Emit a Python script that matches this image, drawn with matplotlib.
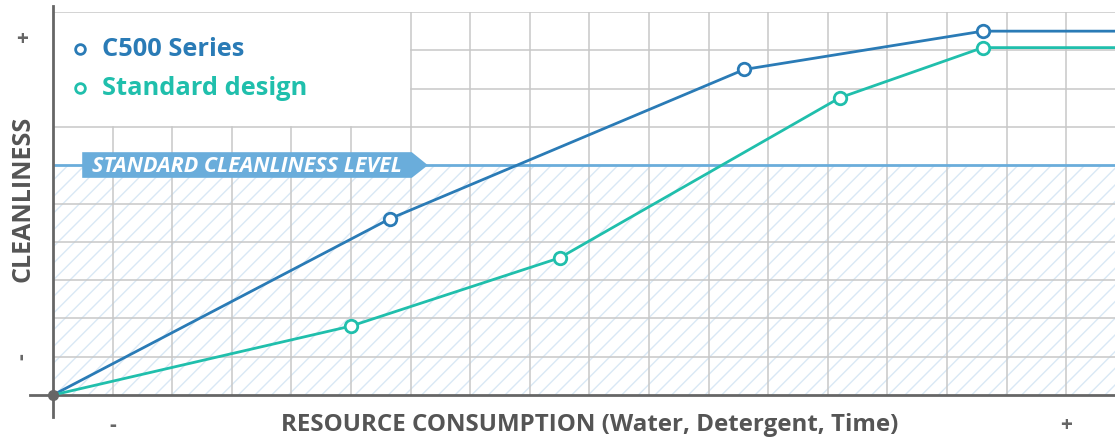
import matplotlib.pyplot as plt
from matplotlib.patches import Polygon, Rectangle

plt.rcParams['font.family'] = ['Open Sans', 'DejaVu Sans']
plt.rcParams['hatch.linewidth'] = 1.0

# data (x = resource consumption, y = cleanliness, arbitrary units)
c500_x = [0, 5.65, 11.6, 15.6, 18.0]
c500_y = [0, 4.6, 8.5, 9.5, 9.5]
std_x = [0, 5.0, 8.5, 13.2, 15.6, 18.0]
std_y = [0, 1.8, 3.58, 7.76, 9.07, 9.07]
standard_level = 6

blue = '#2a7bb6'
teal = '#20bfac'
level_color = '#6aaddb'
hatch_color = '#d9e8f5'
grid_color = '#c8c8c8'
axis_color = '#666666'
text_gray = '#555555'

fig = plt.figure(figsize=(11.15, 4.39), dpi=100)
ax = fig.add_axes([53 / 1115, 43 / 439, 1062 / 1115, 383 / 439])
xmax = 1062 / 59.6
ax.set_xlim(0, xmax)
ax.set_ylim(0, 10)
ax.axis('off')

# hatched zone below the standard level
ax.add_patch(Rectangle((0, 0), xmax, standard_level, facecolor='white',
                       edgecolor=hatch_color, linewidth=0, hatch='//', zorder=0))

# grid, leaving the legend area clear
for x in range(1, 18):
    top = 7 if x < 6 else 10
    ax.plot([x, x], [0, top], color=grid_color, lw=1.1, zorder=1)
for y in range(1, 11):
    if y == standard_level:
        continue
    left = 6 if y in (8, 9) else 0
    ax.plot([left, xmax], [y, y], color=grid_color, lw=1.1, zorder=1)

# standard level line + tag
ax.plot([0, xmax], [standard_level] * 2, color=level_color, lw=2, zorder=2)
ax.add_patch(Polygon([(0.49, 5.67), (6.02, 5.67), (6.29, 6.0), (6.02, 6.34), (0.49, 6.34)],
                     closed=True, facecolor=level_color, edgecolor='none', zorder=3))
ax.text(3.26, 6.0, 'STANDARD CLEANLINESS LEVEL', color='white', fontsize=15.5,
        fontweight='bold', style='italic', ha='center', va='center', zorder=4)

# axes
ax.plot([0, 0], [-0.57, 10.15], color=axis_color, lw=2, clip_on=False, zorder=5)
ax.plot([-0.39, xmax], [0, 0], color=axis_color, lw=2, clip_on=False, zorder=5)

# series
for xs, ys, c in [(c500_x, c500_y, blue), (std_x, std_y, teal)]:
    ax.plot(xs, ys, color=c, lw=2, zorder=6, clip_on=False)
    ax.plot(xs[1:-1], ys[1:-1], 'o', ms=9, mfc='white', mec=c, mew=2, zorder=7)
ax.plot([0], [0], 'o', ms=7, color=axis_color, zorder=8, clip_on=False)

# legend
ax.plot([0.46], [9.04], 'o', ms=7, mfc='white', mec=blue, mew=2, zorder=7)
ax.plot([0.46], [8.02], 'o', ms=7, mfc='white', mec=teal, mew=2, zorder=7)
ax.text(0.82, 9.04, 'C500 Series', color=blue, fontsize=18.3, fontweight='bold', va='center')
ax.text(0.82, 8.02, 'Standard design', color=teal, fontsize=18.3, fontweight='bold', va='center')

# axis labels
ax.text(-0.5, 5.14, 'CLEANLINESS', rotation=90, color=text_gray, fontsize=18,
        fontweight='bold', ha='center', va='center')
ax.text(9.0, -0.76, 'RESOURCE CONSUMPTION (Water, Detergent, Time)', color=text_gray,
        fontsize=17.4, fontweight='bold', ha='center', va='center')
ax.text(-0.52, 9.3, '+', color=axis_color, fontsize=15, fontweight='bold', ha='center', va='center')
ax.text(-0.52, 1.03, '-', rotation=90, color=axis_color, fontsize=15, fontweight='bold',
        ha='center', va='center')
ax.text(1, -0.76, '-', color=axis_color, fontsize=15, fontweight='bold', ha='center', va='center')
ax.text(17, -0.76, '+', color=axis_color, fontsize=15, fontweight='bold', ha='center', va='center')

fig.savefig('out.png', dpi=100)
